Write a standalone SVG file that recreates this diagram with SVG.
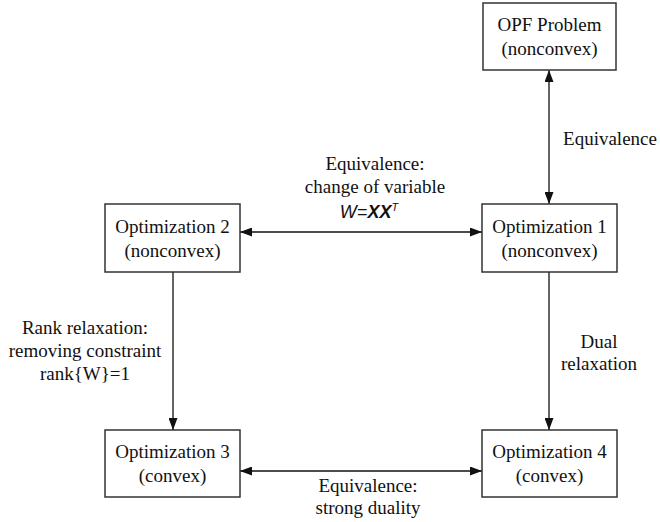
<svg xmlns="http://www.w3.org/2000/svg" width="660" height="522" viewBox="0 0 660 522">
<style>
.box{fill:#fff;stroke:#333;stroke-width:1.5}
.t{font-family:"Liberation Serif","Times New Roman",serif;font-size:19px;fill:#111;text-anchor:middle}
.c{stroke:#111;stroke-width:1.3;fill:none}
.f{font-family:"Liberation Sans",Arial,sans-serif;font-size:18px;fill:#111;font-style:italic}
</style>
<defs>
<marker id="ah" markerUnits="userSpaceOnUse" markerWidth="13" markerHeight="9" refX="12" refY="4.5" orient="auto-start-reverse">
<path d="M0,0 L12,4.5 L0,9 z" fill="#111"/>
</marker>
</defs>
<rect width="660" height="522" fill="#fff"/>
<g id="connectors">
<line class="c" x1="549" y1="70" x2="549" y2="204" marker-start="url(#ah)" marker-end="url(#ah)"/>
<line class="c" x1="240" y1="232" x2="482" y2="232" marker-start="url(#ah)" marker-end="url(#ah)"/>
<line class="c" x1="173" y1="272" x2="173" y2="430" marker-end="url(#ah)"/>
<line class="c" x1="549" y1="272" x2="549" y2="430" marker-end="url(#ah)"/>
<line class="c" x1="240" y1="471" x2="482" y2="471" marker-start="url(#ah)" marker-end="url(#ah)"/>
<text class="t" x="610" y="145">Equivalence</text>
<text class="t" x="375" y="170">Equivalence:</text>
<text class="t" x="375" y="193">change of variable</text>
<text class="f" x="369" y="218" text-anchor="middle">W=<tspan font-weight="bold">XX</tspan><tspan font-size="11" dy="-7">T</tspan></text>
<text class="t" x="85" y="334">Rank relaxation:</text>
<text class="t" x="85" y="357">removing constraint</text>
<text class="t" x="85" y="380">rank{W}=1</text>
<text class="t" x="599" y="348">Dual</text>
<text class="t" x="599" y="370">relaxation</text>
<text class="t" x="368" y="492">Equivalence:</text>
<text class="t" x="368" y="514">strong duality</text>
</g>
<g id="opf">
<rect class="box" x="483" y="3" width="133" height="67"/>
<text class="t" x="549.5" y="31">OPF Problem</text>
<text class="t" x="549.5" y="55">(nonconvex)</text>
</g>
<g id="opt1">
<rect class="box" x="482" y="204" width="135" height="68"/>
<text class="t" x="549.5" y="233">Optimization 1</text>
<text class="t" x="549.5" y="257">(nonconvex)</text>
</g>
<g id="opt2">
<rect class="box" x="105" y="204" width="135" height="68"/>
<text class="t" x="172.5" y="233">Optimization 2</text>
<text class="t" x="172.5" y="257">(nonconvex)</text>
</g>
<g id="opt3">
<rect class="box" x="105" y="430" width="135" height="67"/>
<text class="t" x="172.5" y="458">Optimization 3</text>
<text class="t" x="172.5" y="482">(convex)</text>
</g>
<g id="opt4">
<rect class="box" x="482" y="430" width="135" height="67"/>
<text class="t" x="549.5" y="458">Optimization 4</text>
<text class="t" x="549.5" y="482">(convex)</text>
</g>
</svg>
